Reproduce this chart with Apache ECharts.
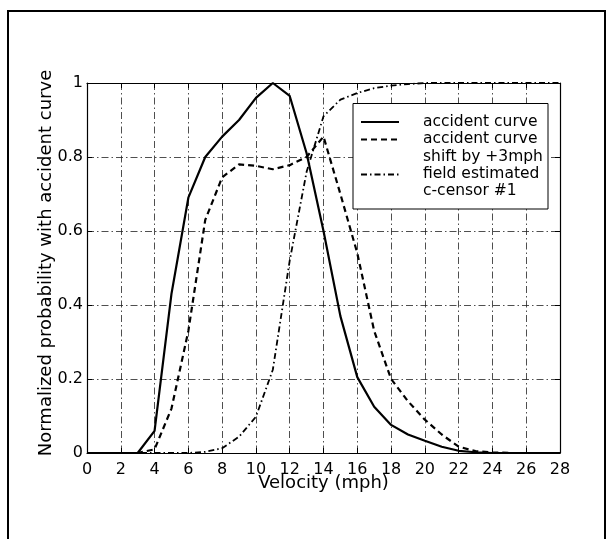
<!DOCTYPE html>
<html>
<head>
<meta charset="utf-8">
<script src="https://cdn.jsdelivr.net/npm/echarts@6/dist/echarts.min.js"></script>
<style>
html,body{margin:0;padding:0;background:#fff;}
#chart{width:614px;height:539px;}
</style>
</head>
<body>
<div id="chart"></div>
<script>
var velocity = [0,1,2,3,4,5,6,7,8,9,10,11,12,13,14,15,16,17,18,19,20,21,22,23,24,25,26,27,28];
var accidentCurve = [0,0,0,0,0.06,0.43,0.69,0.80,0.855,0.90,0.96,1.0,0.965,0.81,0.60,0.37,0.205,0.125,0.076,0.05,0.033,0.017,0.006,0.002,0,0,0,0,0];
var shiftedCurve = [0,0,0,0,0.01,0.12,0.33,0.63,0.745,0.78,0.776,0.767,0.778,0.80,0.855,0.70,0.54,0.33,0.20,0.14,0.09,0.05,0.017,0.005,0.002,0,0,0,0];
var fieldCensor = [0,0,0,0,0,0,0,0.003,0.013,0.044,0.098,0.225,0.52,0.76,0.91,0.955,0.973,0.986,0.993,0.997,1,1,1,1,1,1,1,1,1];
var legendLabels = ["accident curve", "accident curve\nshift by +3mph", "field estimated\nc-censor #1"];

function pairs(ys){ return velocity.map(function(x,i){ return [x, ys[i]]; }); }

var FONT = "DejaVu Sans";
var gridLine = {show:true, lineStyle:{color:'#222', width:0.8, type:[7,3,1.5,3]}};
var chart = echarts.init(document.getElementById('chart'), null, {renderer:'canvas'});
chart.setOption({
  backgroundColor:'#fff',
  animation:false,
  grid:{left:87, right:54, top:83, bottom:86, containLabel:false},
  xAxis:[{
    type:'value', min:0, max:28, interval:2, position:'bottom',
    name:'Velocity (mph)', nameLocation:'middle', nameGap:21, nameMoveOverlap:false,
    nameTextStyle:{fontFamily:FONT, fontSize:18, color:'#000'},
    axisLine:{show:true, onZero:false, lineStyle:{color:'#000', width:1.2}},
    axisTick:{show:true, inside:true, length:5, lineStyle:{color:'#000'}},
    axisLabel:{fontFamily:FONT, fontSize:16, color:'#000', margin:9},
    splitLine:gridLine
  },{
    type:'value', min:0, max:28, interval:2, position:'top',
    axisLine:{show:true, onZero:false, lineStyle:{color:'#000', width:1.2}},
    axisTick:{show:true, inside:true, length:5, lineStyle:{color:'#000'}},
    axisLabel:{show:false}, splitLine:{show:false}
  }],
  yAxis:[{
    type:'value', min:0, max:1, interval:0.2, position:'left',
    name:'Normalized probability with accident curve', nameLocation:'middle', nameGap:32, nameMoveOverlap:false,
    nameTextStyle:{fontFamily:FONT, fontSize:18, color:'#000', padding:[0,0,0,10]},
    axisLine:{show:true, onZero:false, lineStyle:{color:'#000', width:1.2}},
    axisTick:{show:true, inside:true, length:5, lineStyle:{color:'#000'}},
    axisLabel:{fontFamily:FONT, fontSize:16, color:'#000', margin:4},
    splitLine:gridLine
  },{
    type:'value', min:0, max:1, interval:0.2, position:'right',
    axisLine:{show:true, onZero:false, lineStyle:{color:'#000', width:1.2}},
    axisTick:{show:true, inside:true, length:5, lineStyle:{color:'#000'}},
    axisLabel:{show:false}, splitLine:{show:false}
  }],
  series:[
    {name:legendLabels[0], type:'line', data:pairs(accidentCurve), showSymbol:false, symbol:'none',
     lineStyle:{color:'#000', width:2.2, type:'solid'}},
    {name:legendLabels[1], type:'line', data:pairs(shiftedCurve), showSymbol:false, symbol:'none',
     lineStyle:{color:'#000', width:2.2, type:[6,4]}},
    {name:legendLabels[2], type:'line', data:pairs(fieldCensor), showSymbol:false, symbol:'none',
     lineStyle:{color:'#000', width:1.8, type:[6,3,1.5,3]}}
  ],
  graphic:[
    {type:'rect', shape:{x:8, y:11, width:597, height:545}, style:{fill:'none', stroke:'#000', lineWidth:2}, silent:true},
    {type:'rect', shape:{x:353, y:103.5, width:195, height:105.5}, style:{fill:'#fff', stroke:'#000', lineWidth:1}, z:100},
    {type:'line', shape:{x1:361, y1:122, x2:399, y2:122}, style:{stroke:'#000', lineWidth:2.2}, z:101},
    {type:'line', shape:{x1:361, y1:139.5, x2:399, y2:139.5}, style:{stroke:'#000', lineWidth:2.2, lineDash:[6,4]}, z:101},
    {type:'line', shape:{x1:361, y1:174.5, x2:399, y2:174.5}, style:{stroke:'#000', lineWidth:1.8, lineDash:[6,3,1.5,3]}, z:101},
    {type:'text', x:423, y:122, style:{text:legendLabels[0], font:'15.5px "DejaVu Sans"', fill:'#000', verticalAlign:'middle'}, z:101},
    {type:'text', x:423, y:130.7, style:{text:legendLabels[1], font:'15.5px "DejaVu Sans"', fill:'#000', verticalAlign:'top', lineHeight:17.3}, z:101},
    {type:'text', x:423, y:165.5, style:{text:legendLabels[2], font:'15.5px "DejaVu Sans"', fill:'#000', verticalAlign:'top', lineHeight:17.3}, z:101}
  ]
});
</script>
</body>
</html>
